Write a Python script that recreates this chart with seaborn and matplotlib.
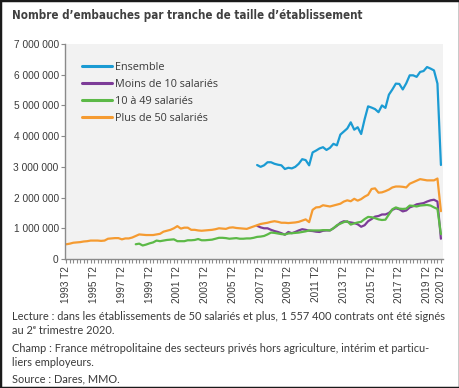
import matplotlib
matplotlib.use('Agg')
import matplotlib.pyplot as plt
import matplotlib.patches as patches
from matplotlib import font_manager
from matplotlib.ticker import FuncFormatter, FixedLocator
import numpy as np
import pandas as pd
import seaborn as sns

# quarters 1993 T2 .. 2020 T2
quarters = [f'{y} T{q}' for y in range(1993, 2021) for q in (1, 2, 3, 4)][1:110]
tick_labels = ['1993 T2', '1995 T2', '1997 T2', '1999 T2', '2001 T2', '2003 T2',
               '2005 T2', '2007 T2', '2009 T2', '2011 T2', '2013 T2', '2015 T2',
               '2017 T2', '2019 T2', '2020 T2']

# values in millions of hires
plus_50 = [0.48, 0.50, 0.53, 0.54, 0.55, 0.57, 0.58, 0.60, 0.60, 0.60, 0.59, 0.60,
           0.66, 0.67, 0.68, 0.68, 0.64, 0.67, 0.67, 0.70, 0.75, 0.80, 0.79, 0.78,
           0.78, 0.78, 0.80, 0.82, 0.89, 0.92, 0.95, 1.00, 1.07, 0.99, 1.02, 1.02,
           0.95, 0.95, 0.93, 0.92, 0.93, 0.94, 0.95, 0.97, 1.00, 0.99, 0.98, 1.02,
           1.03, 1.01, 1.00, 0.99, 0.98, 1.02, 1.06, 1.10, 1.14, 1.16, 1.18, 1.21,
           1.23, 1.21, 1.18, 1.18, 1.17, 1.18, 1.19, 1.21, 1.25, 1.29, 1.20, 1.60,
           1.68, 1.69, 1.75, 1.73, 1.71, 1.74, 1.77, 1.80, 1.87, 1.91, 1.88, 1.96,
           1.90, 1.95, 2.03, 2.09, 2.28, 2.30, 2.16, 2.17, 2.21, 2.26, 2.33, 2.36,
           2.36, 2.35, 2.33, 2.45, 2.50, 2.55, 2.60, 2.58, 2.56, 2.56, 2.56, 2.62,
           1.557]

# from 1998 T2
de_10_49 = [0.48, 0.50, 0.44, 0.47, 0.51, 0.54, 0.60, 0.58, 0.60, 0.62, 0.63, 0.64,
            0.58, 0.58, 0.58, 0.61, 0.61, 0.62, 0.65, 0.61, 0.61, 0.62, 0.63, 0.66,
            0.69, 0.69, 0.68, 0.66, 0.67, 0.68, 0.66, 0.66, 0.67, 0.67, 0.69, 0.72,
            0.73, 0.75, 0.80, 0.86, 0.85, 0.83, 0.81, 0.80, 0.83, 0.84, 0.85, 0.86,
            0.88, 0.90, 0.93, 0.93, 0.93, 0.93, 0.94, 0.94, 0.93, 1.00, 1.10, 1.15,
            1.20, 1.23, 1.12, 1.16, 1.19, 1.21, 1.30, 1.37, 1.36, 1.33, 1.29, 1.27,
            1.28, 1.45, 1.62, 1.68, 1.64, 1.63, 1.64, 1.74, 1.73, 1.71, 1.74, 1.75,
            1.76, 1.74, 1.68, 1.63, 0.81]

# from 2007 T1
moins_10 = [1.08, 1.03, 1.00, 1.00, 0.95, 0.91, 0.88, 0.84, 0.79, 0.88, 0.84, 0.88,
            0.93, 0.97, 0.95, 0.92, 0.91, 0.89, 0.88, 0.92, 0.93, 0.93, 1.00, 1.08,
            1.18, 1.23, 1.21, 1.19, 1.17, 1.13, 1.05, 1.10, 1.23, 1.30, 1.38, 1.40,
            1.45, 1.45, 1.50, 1.60, 1.65, 1.62, 1.55, 1.58, 1.68, 1.72, 1.78, 1.80,
            1.82, 1.87, 1.91, 1.93, 1.87, 0.66]

ensemble = [3.06, 3.00, 3.05, 3.15, 3.15, 3.10, 3.07, 3.05, 2.93, 2.97, 2.95, 3.00,
            3.10, 3.25, 3.22, 3.05, 3.47, 3.53, 3.60, 3.64, 3.55, 3.62, 3.75, 3.70,
            4.05, 4.15, 4.25, 4.45, 4.21, 4.29, 4.07, 4.55, 4.97, 4.93, 4.88, 4.78,
            5.00, 4.92, 5.35, 5.52, 5.71, 5.70, 5.52, 5.72, 5.98, 5.98, 5.93, 6.09,
            6.12, 6.25, 6.20, 6.14, 5.71, 3.06]

series = {
    'Ensemble': ensemble,
    'Moins de 10 salariés': moins_10,
    '10 à 49 salariés': de_10_49,
    'Plus de 50 salariés': plus_50,
}
colors = ['#1b9bd3', '#7d3c98', '#5cb947', '#f59b31']

rows = []
n = len(quarters)
for name, vals in series.items():
    start = n - len(vals)
    for i, v in enumerate(vals):
        rows.append({'pos': start + i, 'trim': quarters[start + i],
                     'serie': name, 'valeur': v * 1e6})
df = pd.DataFrame(rows)

sns.set_style('white')
plt.rcParams['font.family'] = ['Open Sans', 'DejaVu Sans']

fig = plt.figure(figsize=(4.6, 3.88), dpi=100)
ax = fig.add_axes([65 / 460, 1 - 259 / 388, 378 / 460, 215 / 388])
ax.set_facecolor('#f2f2f2')

sns.lineplot(data=df, x='pos', y='valeur', hue='serie', palette=colors,
             hue_order=list(series.keys()), linewidth=1.6, ax=ax)

ax.set_xlim(-0.4, n - 0.4)
ax.set_ylim(0, 7e6)
ax.set_xlabel('')
ax.set_ylabel('')
ax.yaxis.set_major_formatter(FuncFormatter(lambda v, p: f'{int(v):,}'.replace(',', ' ')))
ax.set_yticks(np.arange(0, 7e6 + 1, 1e6))

ax.xaxis.set_major_locator(FixedLocator([quarters.index(t) for t in tick_labels]))
ax.set_xticklabels(tick_labels, rotation=90)
ax.xaxis.set_minor_locator(FixedLocator(range(n)))

for s in ['top', 'right']:
    ax.spines[s].set_visible(False)
for s in ['left', 'bottom']:
    ax.spines[s].set_color('#8a8a8a')
    ax.spines[s].set_linewidth(1.0)
ax.tick_params(axis='both', which='both', direction='out', color='#8a8a8a',
               labelcolor='#3a3a3a', length=3, width=0.8, left=True, bottom=True)
ax.tick_params(axis='y', labelsize=7.3, pad=1.5)
ax.tick_params(axis='x', labelsize=7.2, pad=2)
for lab in ax.get_yticklabels() + ax.get_xticklabels():
    lab.set_family(['Liberation Sans', 'DejaVu Sans'])

leg = ax.legend(loc='upper left', bbox_to_anchor=(0.045, 0.915), frameon=False,
                fontsize=7.8, handlelength=2.8, handletextpad=0.25,
                labelspacing=0.55, borderpad=0, borderaxespad=0)
for t in leg.get_texts():
    t.set_color('#3a3a3a')
for h in leg.get_lines():
    h.set_linewidth(2.2)

# pick a narrow face for the title if one is installed
fonts = font_manager.fontManager.ttflist
title_kw = dict(family=['Roboto', 'DejaVu Sans'], fontweight='bold')
if any(f.name == 'Liberation Sans Narrow' for f in fonts):
    title_kw = dict(family=['Liberation Sans Narrow', 'DejaVu Sans'], fontweight='bold')
elif any(f.name == 'DejaVu Sans' and f.stretch == 'condensed' for f in fonts):
    title_kw = dict(family=['DejaVu Sans'], fontstretch='condensed', fontweight='bold')

title = fig.text(12 / 460, 1 - 16 / 388,
                 "Nombre d’embauches par tranche de taille d’établissement",
                 fontsize=11, color='#404040', va='center', ha='left', **title_kw)

notes = [
    (317, 'Lecture : dans les établissements de 50 salariés et plus, 1 557 400 contrats ont été signés'),
    (331, 'au 2ᵉ trimestre 2020.'),
    (349, 'Champ : France métropolitaine des secteurs privés hors agriculture, intérim et particu-'),
    (363, 'liers employeurs.'),
    (379, 'Source : Dares, MMO.'),
]
note_texts = []
for y, txt in notes:
    note_texts.append(fig.text(12 / 460, 1 - y / 388, txt, fontsize=7.8, color='#3a3a3a',
                               va='center', ha='left', family=['Lato', 'DejaVu Sans']))

# scale title and notes to the widths seen in the reference
renderer = fig.canvas.get_renderer()
w = title.get_window_extent(renderer).width
title.set_fontsize(11 * 348 / w)
w = note_texts[0].get_window_extent(renderer).width
for t in note_texts:
    t.set_fontsize(7.8 * 435 / w)

fig.add_artist(patches.Rectangle((0, 0), 1, 1, transform=fig.transFigure,
                                 fill=False, lw=2.5, ec='#1a1a1a'))

fig.savefig('out.png', dpi=100)
